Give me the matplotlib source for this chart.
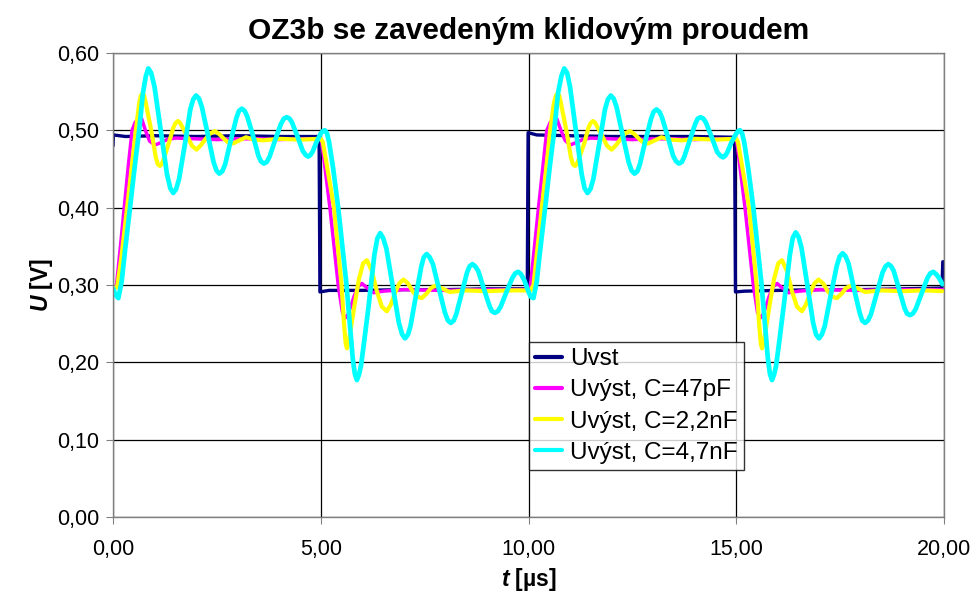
import matplotlib
matplotlib.use("Agg")
import matplotlib.pyplot as plt
from matplotlib.ticker import FuncFormatter, MultipleLocator

plt.rcParams['font.family'] = ['Liberation Sans', 'DejaVu Sans']
plt.rcParams['mathtext.fontset'] = 'custom'
plt.rcParams['mathtext.it'] = 'Liberation Sans:italic:bold'
plt.rcParams['mathtext.rm'] = 'Liberation Sans:bold'

# vstupni obdelnik (t [us], U [V])
uvst = [(0.00, 0.480), (0.01, 0.494), (0.30, 0.492), (1.00, 0.493), (2.00, 0.492), (3.00, 0.493),
        (4.00, 0.492), (4.96, 0.492), (4.98, 0.291), (5.20, 0.293), (6.00, 0.293), (7.00, 0.294),
        (8.00, 0.294), (9.00, 0.295), (9.97, 0.295), (9.99, 0.497), (10.20, 0.494), (11.00, 0.493),
        (12.00, 0.492), (13.00, 0.492), (14.00, 0.492), (14.96, 0.491), (14.98, 0.291), (15.20, 0.292),
        (16.00, 0.293), (17.00, 0.294), (18.00, 0.294), (19.00, 0.295), (19.95, 0.296), (19.97, 0.330),
        (19.99, 0.330)]

# vystup, C = 47 pF
c47p = [(0.00, 0.297), (0.08, 0.298), (0.17, 0.345), (0.27, 0.400), (0.37, 0.455), (0.46, 0.500),
        (0.53, 0.510), (0.62, 0.516), (0.69, 0.515), (0.78, 0.500), (0.88, 0.486), (1.01, 0.481),
        (1.15, 0.484), (1.30, 0.488), (1.50, 0.490), (2.00, 0.489), (2.50, 0.488), (3.00, 0.489),
        (3.50, 0.489), (4.00, 0.488), (4.50, 0.489), (5.00, 0.489), (5.02, 0.487), (5.22, 0.400),
        (5.42, 0.300), (5.52, 0.265), (5.58, 0.257), (5.66, 0.262), (5.80, 0.285), (5.90, 0.298),
        (5.99, 0.302), (6.10, 0.297), (6.27, 0.290), (6.50, 0.292), (7.00, 0.294), (8.00, 0.293),
        (9.00, 0.294), (10.00, 0.294), (10.04, 0.296), (10.24, 0.400), (10.44, 0.500), (10.52, 0.510),
        (10.61, 0.516), (10.68, 0.515), (10.78, 0.500), (10.88, 0.487), (11.00, 0.481), (11.14, 0.484),
        (11.30, 0.488), (11.50, 0.490), (12.00, 0.489), (12.50, 0.488), (13.00, 0.489), (13.50, 0.489),
        (14.00, 0.488), (14.50, 0.489), (15.00, 0.489), (15.01, 0.487), (15.21, 0.400), (15.41, 0.300),
        (15.51, 0.265), (15.57, 0.257), (15.65, 0.262), (15.79, 0.285), (15.89, 0.298), (15.98, 0.302),
        (16.09, 0.297), (16.26, 0.290), (16.50, 0.292), (17.00, 0.294), (18.00, 0.293), (19.00, 0.294),
        (19.96, 0.294)]

# vystup, C = 2,2 nF
c2n2 = [(0.00, 0.296), (0.10, 0.297), (0.20, 0.335), (0.34, 0.400), (0.45, 0.452), (0.55, 0.500),
        (0.63, 0.535), (0.67, 0.545), (0.71, 0.548), (0.75, 0.545), (0.79, 0.535), (0.92, 0.500),
        (1.03, 0.465), (1.08, 0.456), (1.13, 0.454), (1.18, 0.457), (1.24, 0.466), (1.34, 0.483),
        (1.45, 0.503), (1.50, 0.509), (1.56, 0.512), (1.61, 0.510), (1.67, 0.504), (1.78, 0.493),
        (1.90, 0.480), (2.01, 0.475), (2.12, 0.481), (2.23, 0.489), (2.34, 0.496), (2.45, 0.499),
        (2.56, 0.495), (2.67, 0.489), (2.78, 0.484), (2.89, 0.483), (3.00, 0.486), (3.20, 0.491),
        (3.40, 0.488), (3.60, 0.487), (4.00, 0.489), (4.50, 0.488), (5.00, 0.489), (5.05, 0.485),
        (5.32, 0.400), (5.50, 0.300), (5.56, 0.250), (5.60, 0.224), (5.63, 0.218), (5.68, 0.228),
        (5.80, 0.270), (5.92, 0.308), (6.02, 0.328), (6.11, 0.332), (6.23, 0.318), (6.35, 0.292),
        (6.47, 0.272), (6.59, 0.266), (6.69, 0.275), (6.79, 0.290), (6.89, 0.302), (6.99, 0.307),
        (7.10, 0.302), (7.21, 0.292), (7.32, 0.285), (7.43, 0.283), (7.55, 0.289), (7.65, 0.296),
        (7.75, 0.299), (7.90, 0.296), (8.10, 0.291), (8.50, 0.293), (9.00, 0.292), (9.50, 0.293),
        (10.05, 0.293), (10.12, 0.300), (10.32, 0.400), (10.43, 0.452), (10.52, 0.500), (10.61, 0.535),
        (10.66, 0.545), (10.70, 0.548), (10.74, 0.545), (10.78, 0.535), (10.91, 0.500), (11.02, 0.465),
        (11.07, 0.456), (11.12, 0.454), (11.17, 0.457), (11.23, 0.466), (11.34, 0.483), (11.44, 0.503),
        (11.49, 0.509), (11.55, 0.512), (11.60, 0.510), (11.66, 0.504), (11.77, 0.493), (11.89, 0.480),
        (12.00, 0.475), (12.11, 0.481), (12.22, 0.489), (12.33, 0.496), (12.44, 0.499), (12.55, 0.495),
        (12.66, 0.489), (12.77, 0.484), (12.88, 0.483), (13.00, 0.486), (13.20, 0.491), (13.40, 0.488),
        (13.70, 0.487), (14.00, 0.489), (14.50, 0.488), (15.00, 0.489), (15.04, 0.485), (15.31, 0.400),
        (15.49, 0.300), (15.55, 0.250), (15.59, 0.224), (15.62, 0.218), (15.67, 0.228), (15.79, 0.270),
        (15.91, 0.308), (16.01, 0.328), (16.10, 0.332), (16.22, 0.318), (16.34, 0.292), (16.46, 0.272),
        (16.58, 0.266), (16.68, 0.275), (16.78, 0.290), (16.88, 0.302), (16.98, 0.307), (17.09, 0.302),
        (17.20, 0.292), (17.31, 0.285), (17.42, 0.283), (17.54, 0.289), (17.64, 0.296), (17.76, 0.299),
        (17.90, 0.296), (18.10, 0.291), (18.50, 0.293), (19.00, 0.292), (19.50, 0.293), (19.96, 0.292)]

# vystup, C = 4,7 nF
c4n7 = [(0.00, 0.296), (0.06, 0.287), (0.13, 0.283), (0.21, 0.305), (0.29, 0.345), (0.41, 0.400),
        (0.52, 0.452), (0.63, 0.500), (0.72, 0.548), (0.79, 0.570), (0.85, 0.580), (0.92, 0.574),
        (1.00, 0.556), (1.15, 0.500), (1.30, 0.443), (1.38, 0.425), (1.45, 0.419), (1.52, 0.424),
        (1.59, 0.437), (1.73, 0.482), (1.86, 0.527), (1.93, 0.540), (2.00, 0.545), (2.07, 0.541),
        (2.14, 0.530), (2.28, 0.495), (2.42, 0.459), (2.49, 0.448), (2.56, 0.444), (2.63, 0.447),
        (2.70, 0.456), (2.83, 0.486), (2.97, 0.516), (3.03, 0.525), (3.10, 0.528), (3.17, 0.525),
        (3.23, 0.518), (3.37, 0.493), (3.50, 0.467), (3.56, 0.460), (3.63, 0.457), (3.70, 0.459),
        (3.77, 0.466), (3.90, 0.487), (4.04, 0.508), (4.11, 0.515), (4.18, 0.517), (4.25, 0.515),
        (4.31, 0.510), (4.44, 0.492), (4.57, 0.473), (4.64, 0.468), (4.70, 0.466), (4.75, 0.468),
        (4.80, 0.472), (4.90, 0.485), (5.00, 0.496), (5.05, 0.499), (5.10, 0.500), (5.15, 0.496),
        (5.20, 0.485), (5.30, 0.450), (5.42, 0.400), (5.52, 0.350), (5.62, 0.300), (5.70, 0.250),
        (5.77, 0.205), (5.82, 0.185), (5.87, 0.177), (5.92, 0.184), (5.97, 0.196), (6.04, 0.225),
        (6.15, 0.272), (6.29, 0.339), (6.36, 0.360), (6.43, 0.367), (6.50, 0.361), (6.58, 0.347),
        (6.73, 0.299), (6.88, 0.251), (6.96, 0.236), (7.03, 0.231), (7.10, 0.236), (7.16, 0.247),
        (7.29, 0.286), (7.42, 0.324), (7.48, 0.336), (7.55, 0.340), (7.62, 0.336), (7.70, 0.327),
        (7.84, 0.296), (7.99, 0.264), (8.06, 0.254), (8.13, 0.251), (8.20, 0.254), (8.26, 0.262),
        (8.39, 0.289), (8.52, 0.316), (8.58, 0.324), (8.65, 0.327), (8.72, 0.324), (8.79, 0.318),
        (8.92, 0.296), (9.06, 0.273), (9.12, 0.266), (9.19, 0.264), (9.26, 0.266), (9.33, 0.272),
        (9.47, 0.291), (9.61, 0.309), (9.68, 0.315), (9.75, 0.317), (9.82, 0.314), (9.90, 0.306),
        (9.98, 0.294), (10.05, 0.285), (10.12, 0.283), (10.20, 0.305), (10.28, 0.345), (10.40, 0.400),
        (10.51, 0.452), (10.62, 0.500), (10.71, 0.548), (10.79, 0.570), (10.86, 0.580), (10.93, 0.574),
        (11.00, 0.556), (11.14, 0.500), (11.28, 0.443), (11.35, 0.425), (11.42, 0.419), (11.49, 0.424),
        (11.56, 0.437), (11.70, 0.482), (11.84, 0.527), (11.91, 0.540), (11.98, 0.545), (12.05, 0.541),
        (12.12, 0.530), (12.26, 0.495), (12.41, 0.459), (12.48, 0.448), (12.55, 0.444), (12.62, 0.447),
        (12.68, 0.456), (12.81, 0.486), (12.95, 0.515), (13.01, 0.524), (13.08, 0.527), (13.15, 0.524),
        (13.21, 0.517), (13.35, 0.492), (13.48, 0.467), (13.55, 0.460), (13.62, 0.457), (13.69, 0.459),
        (13.75, 0.466), (13.88, 0.487), (14.01, 0.508), (14.07, 0.515), (14.14, 0.517), (14.21, 0.515),
        (14.27, 0.510), (14.41, 0.491), (14.54, 0.472), (14.62, 0.467), (14.68, 0.465), (14.73, 0.467),
        (14.78, 0.471), (14.88, 0.484), (14.99, 0.495), (15.04, 0.499), (15.09, 0.500), (15.14, 0.496),
        (15.19, 0.485), (15.29, 0.450), (15.41, 0.400), (15.51, 0.350), (15.61, 0.300), (15.69, 0.250),
        (15.76, 0.205), (15.81, 0.185), (15.86, 0.177), (15.91, 0.184), (15.96, 0.196), (16.03, 0.225),
        (16.14, 0.272), (16.29, 0.339), (16.36, 0.361), (16.43, 0.368), (16.50, 0.362), (16.57, 0.348),
        (16.71, 0.300), (16.85, 0.251), (16.92, 0.236), (16.99, 0.231), (17.06, 0.236), (17.13, 0.247),
        (17.27, 0.286), (17.42, 0.325), (17.49, 0.337), (17.56, 0.341), (17.63, 0.337), (17.70, 0.328),
        (17.83, 0.296), (17.97, 0.264), (18.03, 0.254), (18.10, 0.251), (18.17, 0.254), (18.24, 0.262),
        (18.38, 0.289), (18.52, 0.316), (18.59, 0.324), (18.66, 0.327), (18.73, 0.324), (18.79, 0.318),
        (18.92, 0.294), (19.05, 0.270), (19.11, 0.263), (19.18, 0.261), (19.25, 0.263), (19.32, 0.269),
        (19.46, 0.289), (19.60, 0.309), (19.67, 0.315), (19.74, 0.317), (19.81, 0.314), (19.88, 0.309),
        (19.96, 0.301)]

labels = ['Uvst', 'Uvýst, C=47pF', 'Uvýst, C=2,2nF', 'Uvýst, C=4,7nF']
colors = ['#000080', '#FF00FF', '#FFFF00', '#00FFFF']
widths = [2.4, 2.5, 3.0, 3.4]

fig = plt.figure(figsize=(9.8, 5.98), dpi=100)
ax = fig.add_axes([0.1153, 0.1355, 0.8480, 0.7759])

for pts, lab, c, w in zip([uvst, c47p, c2n2, c4n7], labels, colors, widths):
    t, u = zip(*pts)
    ax.plot(t, u, color=c, lw=w, label=lab, solid_joinstyle='round', solid_capstyle='round')

ax.set_xlim(0, 20)
ax.set_ylim(0, 0.6)
ax.xaxis.set_major_locator(MultipleLocator(5))
ax.yaxis.set_major_locator(MultipleLocator(0.1))
fmt = FuncFormatter(lambda v, p: f'{v:.2f}'.replace('.', ','))
ax.xaxis.set_major_formatter(fmt)
ax.yaxis.set_major_formatter(fmt)
ax.grid(True, color='black', lw=0.9)
ax.set_axisbelow(True)
for s in ax.spines.values():
    s.set_color('#808080')
    s.set_linewidth(1.0)
ax.tick_params(axis='both', direction='out', length=5, color='#808080', labelsize=15.5)
ax.tick_params(axis='x', pad=11)
ax.tick_params(axis='y', pad=5)

ax.set_title('OZ3b se zavedeným klidovým proudem', fontsize=21.5, fontweight='bold', pad=10)
ax.set_xlabel(r'$t$ [µs]', fontsize=16.5, fontweight='bold', labelpad=4)
ax.set_ylabel(r'$U$ [V]', fontsize=16.5, fontweight='bold', labelpad=1)

leg = ax.legend(loc='upper left', bbox_to_anchor=(529 / 980, 1 - 342 / 598),
                bbox_transform=fig.transFigure, fontsize=17.5, frameon=True, fancybox=False,
                edgecolor='black', borderpad=0.25, labelspacing=0.38, handlelength=1.1,
                handletextpad=0.35, borderaxespad=0)
leg.get_frame().set_linewidth(1.0)
for line in leg.get_lines():
    line.set_linewidth(3)

fig.savefig('out.png', dpi=100)
